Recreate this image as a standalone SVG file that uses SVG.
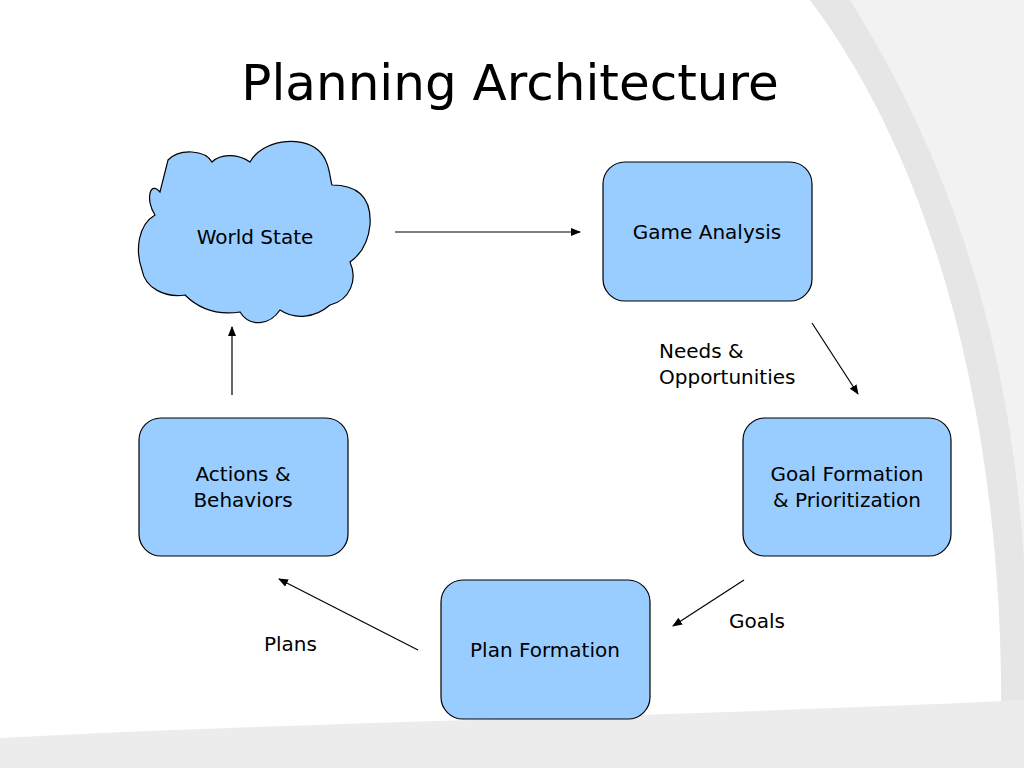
<svg xmlns="http://www.w3.org/2000/svg" width="1024" height="768" viewBox="0 0 1024 768">
<style>
.box{fill:#99ccff;stroke:#000;stroke-width:1.2}
.t{font-family:"DejaVu Sans","Liberation Sans",sans-serif;font-size:20px;fill:#000}
.c{stroke:#000;stroke-width:1.2;fill:none;marker-end:url(#a)}
</style>
<defs><marker id="a" markerWidth="10" markerHeight="8" refX="9" refY="4" orient="auto" markerUnits="userSpaceOnUse"><path d="M0,0 L10,4 L0,8 Z" fill="#000"/></marker></defs>
<rect width="1024" height="768" fill="#fff"/>
<path d="M810,0 L1024,0 L1024,768 L1000,768 C1010,500 960,200 810,0 Z" fill="#e6e6e6"/>
<path d="M850,0 L1024,0 L1024,560 C1010,340 950,160 850,0 Z" fill="#f2f2f2"/>
<path d="M0,768 L0,738 C300,722 700,716 1024,700 L1024,768 Z" fill="#ececec"/>
<text class="t" x="510" y="100" font-size="50" text-anchor="middle" style="font-size:50px">Planning Architecture</text>
<g id="world"><path class="box" d="M168,160 C180,148 205,150 212,162 C222,152 240,155 250,162 C262,140 300,135 318,150 C330,160 330,180 332,185 C355,185 372,195 370,225 C368,245 360,255 350,262 C358,280 350,300 330,305 C315,318 295,320 280,310 C270,325 250,328 240,312 C220,315 200,310 185,295 C165,298 145,288 142,270 C135,250 138,225 155,215 C145,200 150,180 160,192 Z"/><text class="t" x="255" y="244" text-anchor="middle">World State</text></g>
<g id="game"><rect class="box" x="603" y="162" width="209" height="139" rx="22"/><text class="t" x="707" y="239" text-anchor="middle">Game Analysis</text></g>
<g id="goal"><rect class="box" x="743" y="418" width="208" height="138" rx="22"/><text class="t" x="847" y="481" text-anchor="middle">Goal Formation</text><text class="t" x="847" y="507" text-anchor="middle">&amp; Prioritization</text></g>
<g id="plan"><rect class="box" x="441" y="580" width="209" height="139" rx="22"/><text class="t" x="545" y="657" text-anchor="middle">Plan Formation</text></g>
<g id="actions"><rect class="box" x="139" y="418" width="209" height="138" rx="22"/><text class="t" x="243" y="481" text-anchor="middle">Actions &amp;</text><text class="t" x="243" y="507" text-anchor="middle">Behaviors</text></g>
<g id="connectors">
<line class="c" x1="395" y1="232" x2="580" y2="232"/>
<line class="c" x1="812" y1="323" x2="858" y2="394"/>
<line class="c" x1="744" y1="580" x2="673" y2="626"/>
<line class="c" x1="418" y1="650" x2="279" y2="579"/>
<line class="c" x1="232" y1="395" x2="232" y2="327"/>
</g>
<text class="t" x="659" y="358">Needs &amp;</text>
<text class="t" x="659" y="384">Opportunities</text>
<text class="t" x="729" y="628">Goals</text>
<text class="t" x="264" y="651">Plans</text>
</svg>
